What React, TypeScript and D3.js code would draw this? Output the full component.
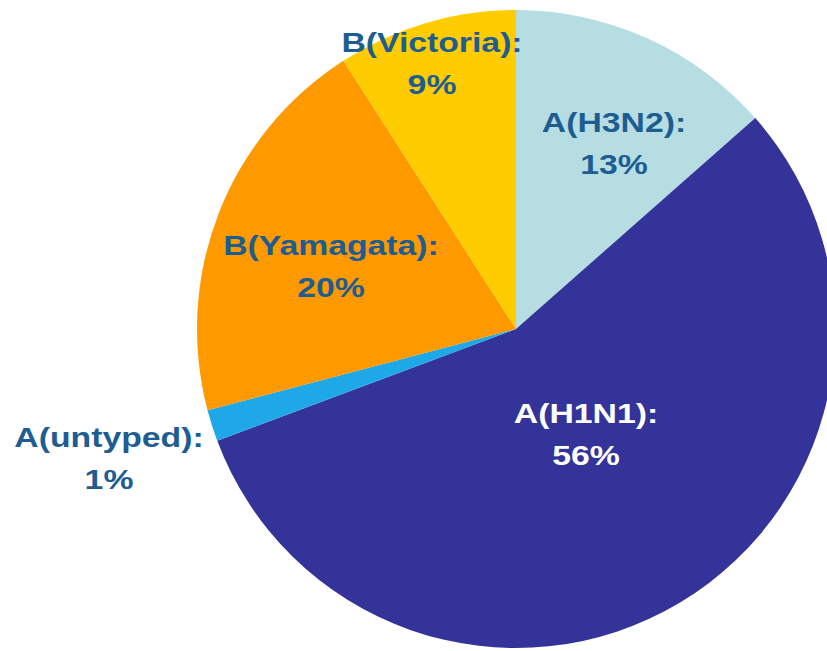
import React from "react";
import * as d3 from "d3";

const categories = ["A(H3N2)", "A(H1N1)", "A(untyped)", "B(Yamagata)", "B(Victoria)"];
const values = [13.5, 55.8, 1.6, 20.0, 9.1];
const percentLabels = ["13%", "56%", "1%", "20%", "9%"];
const colors = ["#b5dde2", "#333399", "#1ea8e8", "#ff9900", "#ffcc00"];
const labelColors = ["#1d5d92", "#ffffff", "#1d5d92", "#1d5d92", "#1d5d92"];
// label anchor (center x, first baseline y)
const labelPos: [number, number][] = [
  [614, 132],
  [586, 423],
  [109, 447],
  [331, 255],
  [432, 52],
];

const W = 827;
const H = 651;
const cx = 516;
const cy = 329;
const R = 319;

export default function App() {
  const pie = d3
    .pie<number>()
    .sort(null)
    .value((d) => d)
    .startAngle(0)
    .endAngle(2 * Math.PI);
  const arcs = pie(values);
  const arc = d3.arc<d3.PieArcDatum<number>>().innerRadius(0).outerRadius(R);
  const fontSize = 27;
  const sx = 1.25;
  const lineGap = 42;
  return (
    <svg
      width={W}
      height={H}
      style={{ position: "absolute", left: 0, top: 0, display: "block", background: "#ffffff" }}
    >
      <g transform={`translate(${cx},${cy})`}>
        {arcs.map((a, i) => (
          <path key={categories[i]} d={arc(a) || ""} fill={colors[i]} />
        ))}
      </g>
      {categories.map((c, i) => {
        const [x, y] = labelPos[i];
        return (
          <g key={c} transform={`translate(${x},${y}) scale(${sx},1)`}>
            <text
              x={0}
              y={0}
              textAnchor="middle"
              fontFamily="'Liberation Sans', Arial, sans-serif"
              fontWeight="bold"
              fontSize={fontSize}
              fill={labelColors[i]}
            >
              {c + ":"}
            </text>
            <text
              x={0}
              y={lineGap}
              textAnchor="middle"
              fontFamily="'Liberation Sans', Arial, sans-serif"
              fontWeight="bold"
              fontSize={fontSize}
              fill={labelColors[i]}
            >
              {percentLabels[i]}
            </text>
          </g>
        );
      })}
    </svg>
  );
}
